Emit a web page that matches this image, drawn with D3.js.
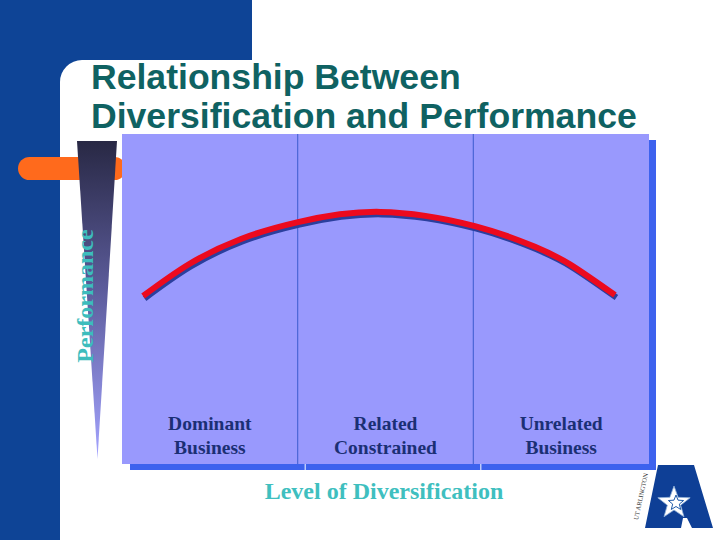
<!DOCTYPE html>
<html>
<head>
<meta charset="utf-8">
<script src="https://cdn.jsdelivr.net/npm/d3@7"></script>
<style>
  html, body { margin: 0; padding: 0; background: #fff; }
  svg { display: block; }
</style>
</head>
<body>
<svg id="svg" width="720" height="540"></svg>
<script>
// ----- data -----
const titleLines = ["Relationship Between", "Diversification and Performance"];
const categoryLines = [["Dominant", "Business"], ["Related", "Constrained"], ["Unrelated", "Business"]];
const yTitle = "Performance";
const xTitle = "Level of Diversification";
// curve: level of diversification (0..3) vs performance (0..100)
const curveLevel = [0.12, 0.383, 0.677, 1.002, 1.469, 2.009, 2.351, 2.55, 2.806];
const curvePerf  = [50.9, 60.6, 68.2, 73.3, 76.4, 72.1, 65.8, 60.5, 51.2];

const svg = d3.select("#svg");

const x = d3.scaleLinear().domain([0, categoryLines.length]).range([122, 649]);
const y = d3.scaleLinear().domain([0, 100]).range([464, 134]);

const serif = "'Liberation Serif', 'Times New Roman', serif";
const sans = "'Liberation Sans', Arial, sans-serif";

// ----- slide background -----
svg.append("path")
  .attr("d", "M0,0 H252 V60 H82 A22,22 0 0 0 60,82 V540 H0 Z")
  .attr("fill", "#0e4496");

// orange bar
svg.append("rect")
  .attr("x", 18).attr("y", 157)
  .attr("width", 108).attr("height", 23)
  .attr("rx", 11.5)
  .attr("fill", "#ff6a1c");

// title
svg.append("g").selectAll("text")
  .data(titleLines)
  .join("text")
  .attr("x", 91)
  .attr("y", (d, i) => 89 + i * 39)
  .attr("font-family", sans)
  .attr("font-weight", "bold")
  .attr("font-size", 35.6)
  .attr("fill", "#0f6262")
  .text(d => d);

// ----- performance wedge -----
const defs = svg.append("defs");
const grad = defs.append("linearGradient")
  .attr("id", "wedgeGrad")
  .attr("x1", 0).attr("y1", 0).attr("x2", 0).attr("y2", 1);
grad.append("stop").attr("offset", "0%").attr("stop-color", "#282844");
grad.append("stop").attr("offset", "45%").attr("stop-color", "#5a5a98");
grad.append("stop").attr("offset", "100%").attr("stop-color", "#a4a4ff");

svg.append("path")
  .attr("d", "M77,141 L117,141 L97.5,459 Z")
  .attr("fill", "url(#wedgeGrad)");

svg.append("text")
  .attr("transform", "translate(93,296) rotate(-90)")
  .attr("text-anchor", "middle")
  .attr("font-family", serif)
  .attr("font-weight", "bold")
  .attr("font-size", 24)
  .attr("fill", "#3dbdbd")
  .text(yTitle);

// ----- panels -----
const idx = d3.range(categoryLines.length);

svg.append("g").selectAll("rect")
  .data(idx)
  .join("rect")
  .attr("x", i => x(i) + 8)
  .attr("y", y(100) + 6)
  .attr("width", i => x(i + 1) - x(i) - 1)
  .attr("height", y(0) - y(100))
  .attr("fill", "#3d62ee");

svg.append("g").selectAll("rect")
  .data(idx)
  .join("rect")
  .attr("x", i => x(i))
  .attr("y", y(100))
  .attr("width", i => x(i + 1) - x(i))
  .attr("height", y(0) - y(100))
  .attr("fill", "#9999fd");

svg.append("g").selectAll("line")
  .data(idx.slice(1))
  .join("line")
  .attr("x1", i => x(i)).attr("x2", i => x(i))
  .attr("y1", y(100)).attr("y2", y(0))
  .attr("stroke", "#4c66d6")
  .attr("stroke-width", 1.2);

// ----- curve -----
const pts = curveLevel.map((l, i) => [l, curvePerf[i]]);
const line = d3.line()
  .x(d => x(d[0]))
  .y(d => y(d[1]))
  .curve(d3.curveNatural);

svg.append("path")
  .attr("d", line(pts))
  .attr("transform", "translate(1.5,2.5)")
  .attr("fill", "none")
  .attr("stroke", "#2b3f9e")
  .attr("stroke-width", 6);

svg.append("path")
  .attr("d", line(pts))
  .attr("fill", "none")
  .attr("stroke", "#ec0a1e")
  .attr("stroke-width", 6);

// ----- category labels -----
const catG = svg.append("g").selectAll("text")
  .data(categoryLines)
  .join("text")
  .attr("text-anchor", "middle")
  .attr("font-family", serif)
  .attr("font-weight", "bold")
  .attr("font-size", 19.5)
  .attr("fill", "#1b2f74");

catG.selectAll("tspan")
  .data((d, i) => d.map(t => ({ t, i })))
  .join("tspan")
  .attr("x", d => (x(d.i) + x(d.i + 1)) / 2)
  .attr("y", (d, j) => 430 + j * 24)
  .text(d => d.t);

svg.append("text")
  .attr("x", 384)
  .attr("y", 499)
  .attr("text-anchor", "middle")
  .attr("font-family", serif)
  .attr("font-weight", "bold")
  .attr("font-size", 24)
  .attr("fill", "#3fbfbf")
  .text(xTitle);

// ----- logo -----
const logo = svg.append("g");
logo.append("path")
  .attr("d", "M658,465 L694,465 L713,528 L692,528 L687,518 L683,518 L681,528 L645,528 Z")
  .attr("fill", "#0e3f96");

function starPath(cx, cy, R, r) {
  const p = [];
  for (let k = 0; k < 10; k++) {
    const a = -Math.PI / 2 + k * Math.PI / 5;
    const rr = k % 2 === 0 ? R : r;
    p.push([cx + rr * Math.cos(a), cy + rr * Math.sin(a)]);
  }
  return "M" + p.map(q => q.join(",")).join("L") + "Z";
}
logo.append("path")
  .attr("d", starPath(674, 503, 17, 7))
  .attr("fill", "#fff")
  .attr("stroke", "#8fb0d8")
  .attr("stroke-width", 0.8);
logo.append("path")
  .attr("d", starPath(676, 503, 8, 3.5))
  .attr("fill", "none")
  .attr("stroke", "#1f5aa8")
  .attr("stroke-width", 1);

logo.append("text")
  .attr("transform", "translate(643,497) rotate(-78)")
  .attr("text-anchor", "middle")
  .attr("font-family", serif)
  .attr("font-size", 6.5)
  .attr("fill", "#333")
  .text("UT ARLINGTON");
</script>
</body>
</html>
